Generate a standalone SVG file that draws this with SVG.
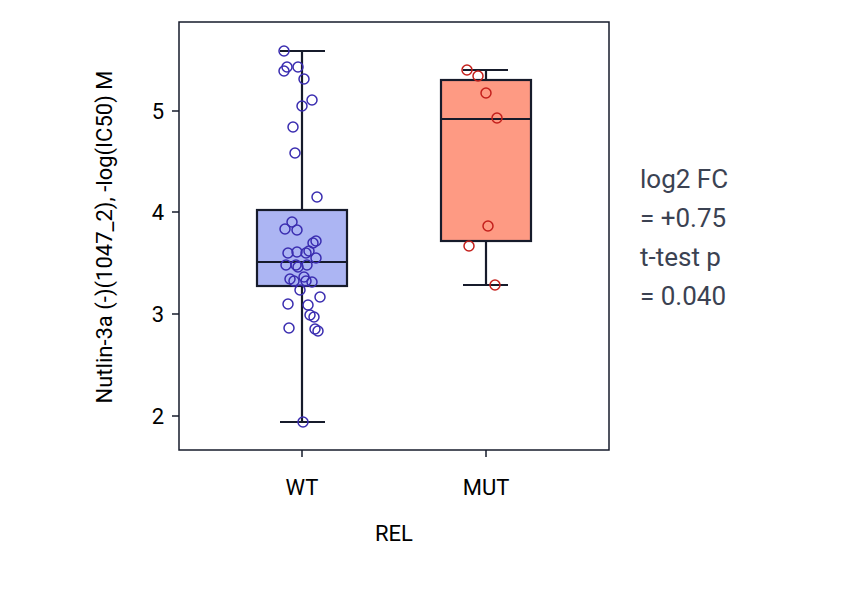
<svg xmlns="http://www.w3.org/2000/svg" width="868" height="590" viewBox="0 0 868 590">
<style>
text{font-family:Roboto,"Liberation Sans",sans-serif;fill:#000}
.ln{stroke:#161b2b;stroke-width:2.2;fill:none}
.w{fill:none;stroke:#3a2db0;stroke-width:1.5}
.m{fill:none;stroke:#c4201c;stroke-width:1.5}
text.t{font-size:22px}
text.s{font-size:26px;fill:#3b4252}
</style>
<rect width="868" height="590" fill="#fff"/>
<g id="axes">
<rect x="179" y="22" width="430" height="428" fill="none" stroke="#161b2b" stroke-width="1.5"/>
<g stroke="#161b2b" stroke-width="1.5"><line x1="172" y1="111" x2="179" y2="111"/><line x1="172" y1="212" x2="179" y2="212"/><line x1="172" y1="314" x2="179" y2="314"/><line x1="172" y1="416" x2="179" y2="416"/><line x1="302" y1="450" x2="302" y2="457"/><line x1="486" y1="450" x2="486" y2="457"/></g>
<g text-anchor="end"><text class="t" x="164" y="119">5</text><text class="t" x="164" y="220">4</text><text class="t" x="164" y="322">3</text><text class="t" x="164" y="424">2</text></g>
<g text-anchor="middle"><text class="t" x="302" y="495">WT</text><text class="t" x="486" y="495">MUT</text><text class="t" x="394" y="541">REL</text></g>
<text class="t" text-anchor="middle" transform="translate(112,237) rotate(-90)">Nutlin-3a (-)(1047_2), -log(IC50) M</text>
</g>
<g id="wt">
<line class="ln" x1="302" y1="51" x2="302" y2="422"/><line class="ln" x1="280" y1="51" x2="325" y2="51"/><line class="ln" x1="280" y1="422" x2="325" y2="422"/>
<rect x="257" y="210" width="90" height="76" class="ln" style="fill:#acb5f3"/><line class="ln" x1="257" y1="262" x2="347" y2="262"/>
<g class="w"><circle cx="284" cy="51" r="5"/><circle cx="287" cy="67" r="5"/><circle cx="284" cy="71" r="5"/><circle cx="298" cy="67" r="5"/><circle cx="304" cy="79" r="5"/><circle cx="312" cy="100" r="5"/><circle cx="302" cy="106" r="5"/><circle cx="293" cy="127" r="5"/><circle cx="295" cy="153" r="5"/><circle cx="317" cy="197" r="5"/><circle cx="292" cy="222" r="5"/><circle cx="285" cy="229" r="5"/><circle cx="297" cy="230" r="5"/><circle cx="316" cy="241" r="5"/><circle cx="313" cy="243" r="5"/><circle cx="288" cy="253" r="5"/><circle cx="297" cy="252" r="5"/><circle cx="306" cy="253" r="5"/><circle cx="309" cy="251" r="5"/><circle cx="316" cy="258" r="5"/><circle cx="286" cy="265" r="5"/><circle cx="296" cy="265" r="5"/><circle cx="307" cy="265" r="5"/><circle cx="298" cy="267" r="5"/><circle cx="290" cy="279" r="5"/><circle cx="294" cy="281" r="5"/><circle cx="304" cy="277" r="5"/><circle cx="306" cy="281" r="5"/><circle cx="312" cy="282" r="5"/><circle cx="300" cy="290" r="5"/><circle cx="320" cy="297" r="5"/><circle cx="288" cy="304" r="5"/><circle cx="308" cy="305" r="5"/><circle cx="310" cy="315" r="5"/><circle cx="314" cy="317" r="5"/><circle cx="289" cy="328" r="5"/><circle cx="315" cy="329" r="5"/><circle cx="318" cy="331" r="5"/><circle cx="303" cy="422" r="5"/></g>
</g>
<g id="mut">
<line class="ln" x1="486" y1="70" x2="486" y2="285"/><line class="ln" x1="463" y1="70" x2="508" y2="70"/><line class="ln" x1="463" y1="285" x2="508" y2="285"/>
<rect x="441" y="80" width="90" height="161" class="ln" style="fill:#fe9a83"/><line class="ln" x1="441" y1="119" x2="531" y2="119"/>
<g class="m"><circle cx="467" cy="70" r="5"/><circle cx="478" cy="76" r="5"/><circle cx="486" cy="93" r="5"/><circle cx="497" cy="118" r="5"/><circle cx="488" cy="226" r="5"/><circle cx="469" cy="246" r="5"/><circle cx="495" cy="285" r="5"/></g>
</g>
<g id="stats"><text class="s" x="640" y="188">log2 FC</text><text class="s" x="640" y="227">= +0.75</text><text class="s" x="640" y="266">t-test p</text><text class="s" x="640" y="305">= 0.040</text></g>
</svg>
